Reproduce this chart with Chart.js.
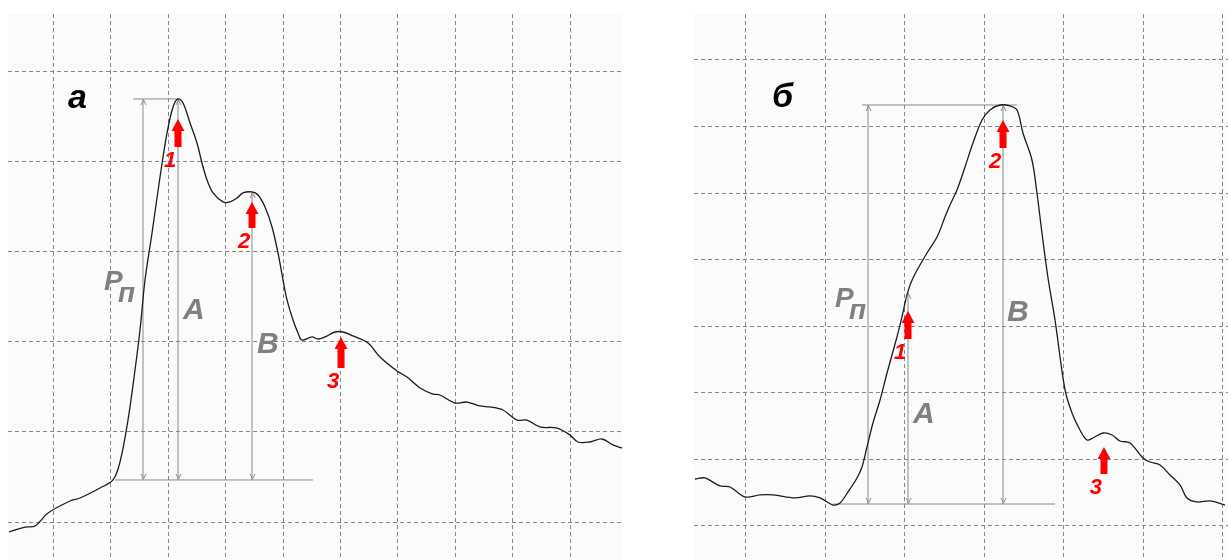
<!DOCTYPE html>
<html>
<head>
<meta charset="utf-8">
<script src="https://cdn.jsdelivr.net/npm/chart.js@4/dist/chart.umd.min.js"></script>
<style>
  body { margin: 0; background: #fff; width: 1228px; height: 559px; overflow: hidden; position: relative; }
  canvas { position: absolute; }
  #chartA { left: 8px; top: 14px; }
  #chartB { left: 694px; top: 14px; }
</style>
</head>
<body>
<canvas id="chartA" width="614" height="545"></canvas>
<canvas id="chartB" width="534" height="545"></canvas>
<script>
// Pulse curves, values in grid cells (x = time, y = amplitude)

// panel а
const aTime = [0.235, 0.513, 0.687, 0.913, 1.296, 1.470, 1.817, 2.043, 2.165, 2.304, 2.426, 2.513, 2.600,
  2.722, 2.861, 2.983, 3.087, 3.174, 3.261, 3.383, 3.504, 3.591, 3.678, 3.783, 3.957, 4.078, 4.200, 4.304,
  4.461, 4.565, 4.687, 4.809, 4.913, 5.000, 5.070, 5.174, 5.261, 5.330, 5.504, 5.609, 5.730, 5.904, 6.043,
  6.217, 6.478, 6.687, 6.983, 7.157, 7.383, 7.609, 7.730, 7.991, 8.200, 8.426, 8.600, 8.826, 9.070, 9.243,
  9.470, 9.765, 9.991, 10.130, 10.339, 10.548, 10.739, 10.896];
const aValue = [0.889, 0.944, 0.956, 1.100, 1.233, 1.267, 1.378, 1.467, 1.667, 2.133, 2.689, 3.133, 3.689,
  4.211, 4.833, 5.322, 5.611, 5.700, 5.656, 5.433, 5.211, 4.989, 4.800, 4.656, 4.556, 4.556, 4.600, 4.656,
  4.667, 4.633, 4.500, 4.278, 3.989, 3.689, 3.467, 3.244, 3.100, 3.022, 3.056, 3.033, 3.056, 3.111, 3.111,
  3.067, 2.989, 2.833, 2.678, 2.611, 2.489, 2.422, 2.411, 2.322, 2.333, 2.289, 2.278, 2.244, 2.133, 2.133,
  2.056, 2.044, 1.967, 1.889, 1.889, 1.922, 1.856, 1.822];
const aBase = [2.078, 5.522, 1.467];      // from, to, level
const aTop = [2.391, 3.174, 5.700];       // from, to, level
const aMeasureX = [2.565, 3.174, 4.461];  // Рп, A, B
const aMeasureTop = [5.700, 5.700, 4.667];
const aMarkX = [3.174, 4.461, 6.009];
const aMarkTip = [5.478, 4.556, 3.056];
const aMarkTail = [5.167, 4.267, 2.711];

// panel б
const bTime = [0.358, 0.484, 0.673, 0.799, 0.987, 1.176, 1.340, 1.616, 1.805, 1.931, 2.094, 2.182, 2.283, 2.396,
  2.459, 2.522, 2.597, 2.686, 2.774, 2.899, 2.962, 3.025, 3.101, 3.277, 3.403, 3.503, 3.566, 3.654, 3.755,
  3.855, 3.969, 4.069, 4.195, 4.321, 4.409, 4.484, 4.597, 4.660, 4.723, 4.799, 4.887, 5.013, 5.101, 5.201,
  5.289, 5.365, 5.491, 5.604, 5.704, 5.830, 5.994, 6.082, 6.208, 6.333, 6.459, 6.547, 6.673, 6.836, 7.025];
const bValue = [1.706, 1.721, 1.601, 1.586, 1.436, 1.466, 1.466, 1.421, 1.451, 1.421, 1.315, 1.346, 1.511, 1.721,
  1.886, 2.187, 2.547, 2.893, 3.298, 3.839, 4.140, 4.470, 4.725, 5.101, 5.341, 5.642, 5.822, 6.047, 6.393,
  6.753, 7.099, 7.249, 7.324, 7.309, 7.249, 6.904, 6.498, 6.002, 5.401, 4.725, 4.094, 3.043, 2.697, 2.442,
  2.292, 2.322, 2.397, 2.367, 2.277, 2.247, 2.021, 1.961, 1.916, 1.766, 1.616, 1.421, 1.361, 1.376, 1.315];
const bBase = [2.094, 4.887, 1.330];
const bTop = [2.459, 4.409, 7.324];
const bMeasureX = [2.535, 3.038, 4.233];
const bMeasureTop = [7.324, 4.500, 7.324];
const bMarkX = [3.038, 4.233, 5.503];
const bMarkTip = [4.230, 7.099, 2.187];
const bMarkTail = [3.809, 6.678, 1.781];

const markNames = ['1', '2', '3'];

const GRID = '#868686';
const MEASURE = '#8a8a8a';
const LABEL_GRAY = '#808080';
const FONT = '"Liberation Sans", Arial, sans-serif';

function pts(xs, ys) {
    return xs.map((x, i) => ({ x: x, y: ys[i] }));
}

function seg(x1, y1, x2, y2) {
    return {
        data: [{ x: x1, y: y1 }, { x: x2, y: y2 }],
        borderColor: MEASURE,
        borderWidth: 1,
        pointRadius: 0,
        tension: 0
    };
}

function range(a, b) {
    const out = [];
    for (let i = a; i <= b; i++) out.push(i);
    return out;
}

// background, small arrowheads, red markers and letters
function makeDecor(p) {
    return {
        id: 'decor',
        beforeDraw(chart) {
            const { ctx, chartArea: c } = chart;
            ctx.save();
            ctx.fillStyle = '#fafbfa';
            ctx.fillRect(c.left, c.top, c.right - c.left, c.bottom - c.top);
            ctx.restore();
        },
        afterDatasetsDraw(chart) {
            const { ctx, scales: { x, y } } = chart;
            ctx.save();

            // arrowheads on the measuring lines
            ctx.strokeStyle = MEASURE;
            ctx.lineWidth = 1;
            const yb = y.getPixelForValue(p.base[2]);
            p.measureX.forEach((mx, i) => {
                const px = Math.round(x.getPixelForValue(mx)) + 0.5;
                const yt = y.getPixelForValue(p.measureTop[i]);
                ctx.beginPath();
                ctx.moveTo(px - 2.5, yt + 6); ctx.lineTo(px, yt + 1); ctx.lineTo(px + 2.5, yt + 6);
                ctx.moveTo(px - 2.5, yb - 6); ctx.lineTo(px, yb - 1); ctx.lineTo(px + 2.5, yb - 6);
                ctx.stroke();
            });

            // red markers
            ctx.fillStyle = '#ff0000';
            ctx.font = 'italic bold 22px ' + FONT;
            ctx.textAlign = 'center';
            ctx.textBaseline = 'middle';
            p.markX.forEach((mx, i) => {
                const px = x.getPixelForValue(mx);
                const tip = y.getPixelForValue(p.markTip[i]);
                const tail = y.getPixelForValue(p.markTail[i]);
                ctx.beginPath();
                ctx.moveTo(px, tip);
                ctx.lineTo(px + 6.5, tip + 12);
                ctx.lineTo(px + 3.5, tip + 12);
                ctx.lineTo(px + 3.5, tail);
                ctx.lineTo(px - 3.5, tail);
                ctx.lineTo(px - 3.5, tip + 12);
                ctx.lineTo(px - 6.5, tip + 12);
                ctx.closePath();
                ctx.fill();
                ctx.fillText(markNames[i], px - 8, tail + 14);
            });

            // letters
            ctx.textAlign = 'left';
            ctx.textBaseline = 'alphabetic';
            p.notes.forEach(n => {
                const px = x.getPixelForValue(n.x);
                const py = y.getPixelForValue(n.y);
                ctx.fillStyle = n.color;
                ctx.font = 'italic bold ' + n.size + 'px ' + FONT;
                ctx.fillText(n.text, px, py);
                if (n.sub) ctx.fillText(n.sub, px + n.size * 0.5, py + n.size * 0.43);
            });
            ctx.restore();
        }
    };
}

function axis(min, max, ticks) {
    return {
        type: 'linear',
        min: min,
        max: max,
        afterBuildTicks: s => { s.ticks = ticks.map(v => ({ value: v })); },
        ticks: { display: false },
        grid: { color: GRID, lineWidth: 1, drawTicks: false },
        border: { display: false, dash: [4, 3] }
    };
}

function drawPanel(id, p) {
    new Chart(document.getElementById(id), {
        type: 'line',
        data: {
            datasets: [
                {
                    data: pts(p.time, p.value),
                    borderColor: '#1c1c1c',
                    borderWidth: 1.3,
                    pointRadius: 0,
                    tension: 0.35
                },
                seg(p.base[0], p.base[2], p.base[1], p.base[2]),
                seg(p.top[0], p.top[2], p.top[1], p.top[2]),
                ...p.measureX.map((mx, i) => seg(mx, p.base[2], mx, p.measureTop[i]))
            ]
        },
        options: {
            responsive: false,
            animation: false,
            events: [],
            layout: { padding: 0 },
            plugins: { legend: { display: false }, tooltip: { enabled: false } },
            scales: {
                x: axis(p.xMin, p.xMax, p.xTicks),
                y: axis(p.yMin, p.yMax, p.yTicks)
            }
        },
        plugins: [makeDecor(p)]
    });
}

drawPanel('chartA', {
    time: aTime, value: aValue, base: aBase, top: aTop,
    measureX: aMeasureX, measureTop: aMeasureTop,
    markX: aMarkX, markTip: aMarkTip, markTail: aMarkTail,
    xMin: 0.217, xMax: 10.896, xTicks: range(1, 10),
    yMin: 0.589, yMax: 6.644, yTicks: range(1, 6),
    notes: [
        { text: 'а', x: 1.261, y: 5.600, size: 34, color: '#000' },
        { text: 'Р', sub: 'п', x: 1.887, y: 3.578, size: 28, color: LABEL_GRAY },
        { text: 'A', x: 3.261, y: 3.256, size: 30, color: LABEL_GRAY },
        { text: 'B', x: 4.548, y: 2.878, size: 30, color: LABEL_GRAY }
    ]
});

drawPanel('chartB', {
    time: bTime, value: bValue, base: bBase, top: bTop,
    measureX: bMeasureX, measureTop: bMeasureTop,
    markX: bMarkX, markTip: bMarkTip, markTail: bMarkTail,
    xMin: 0.346, xMax: 7.063, xTicks: range(1, 7),
    yMin: 0.504, yMax: 8.691, yTicks: range(1, 8),
    notes: [
        { text: 'б', x: 1.327, y: 7.294, size: 34, color: '#000' },
        { text: 'Р', sub: 'п', x: 2.119, y: 4.290, size: 28, color: LABEL_GRAY },
        { text: 'A', x: 3.101, y: 2.547, size: 30, color: LABEL_GRAY },
        { text: 'B', x: 4.283, y: 4.079, size: 30, color: LABEL_GRAY }
    ]
});
</script>
</body>
</html>
